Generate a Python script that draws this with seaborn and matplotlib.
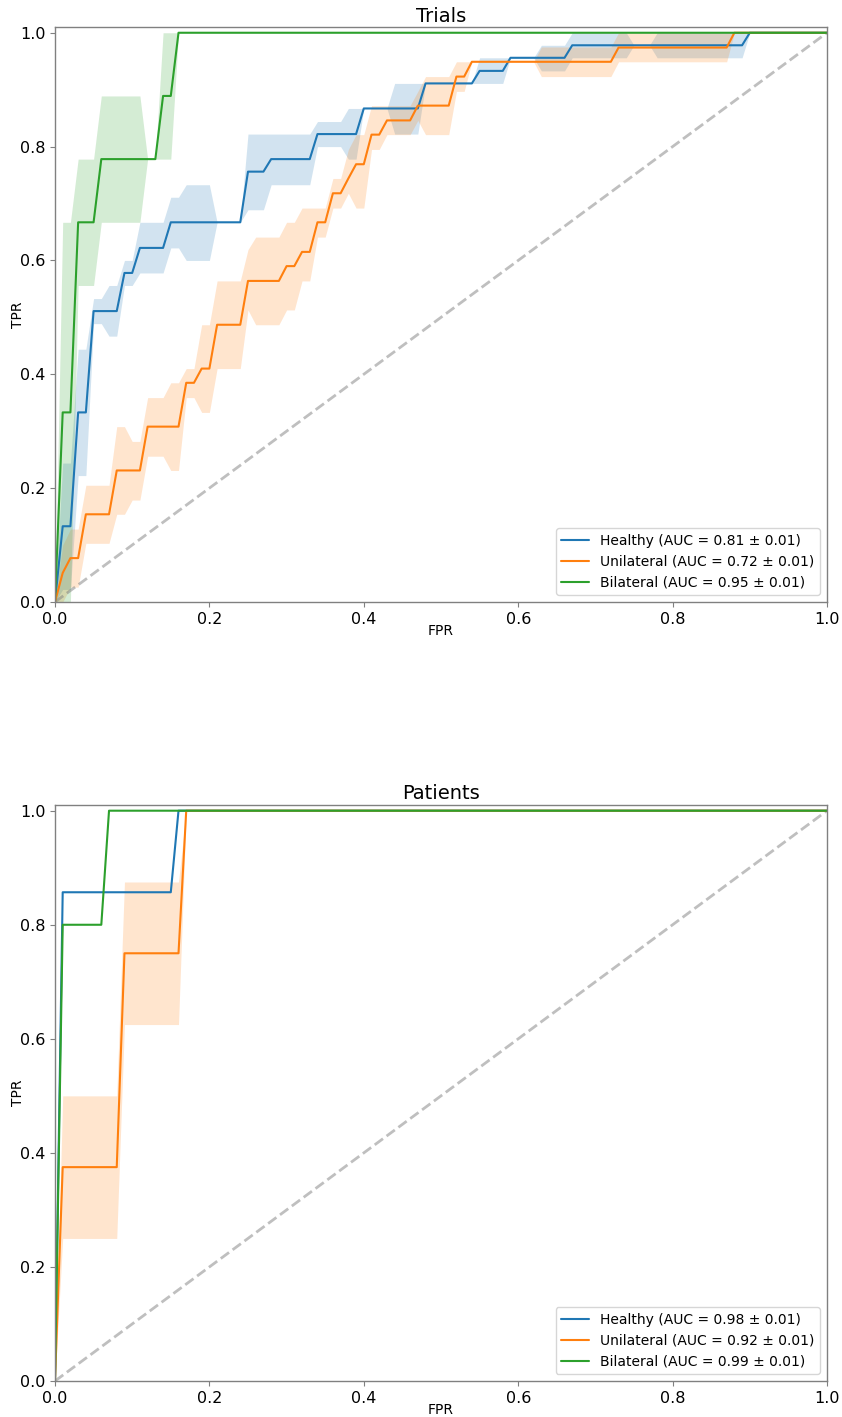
import matplotlib
matplotlib.use("Agg")
import matplotlib.pyplot as plt
import seaborn as sns
import pandas as pd

# ---------------- data ----------------
CLASSES = ["Healthy", "Unilateral", "Bilateral"]
TITLES = ["Trials", "Patients"]
TRIALS_AUC = ["0.81 ± 0.01", "0.72 ± 0.01", "0.95 ± 0.01"]
PATIENTS_AUC = ["0.98 ± 0.01", "0.92 ± 0.01", "0.99 ± 0.01"]
X_TICKS = [0.0, 0.2, 0.4, 0.6, 0.8, 1.0]
Y_TICKS = [0.0, 0.2, 0.4, 0.6, 0.8, 1.0]

# Trials - Healthy
TR_H_FPR = [0, .01, .02, .03, .04, .05, .06, .07, .08, .09, .10, .11, .14, .15, .16, .17, .20, .21, .24, .25,
            .27, .28, .33, .34, .37, .38, .39, .40, .43, .44, .47, .48, .54, .55, .58, .59, .62, .63, .66, .67,
            .74, .75, .77, .78, .89, .90, 1.0]
TR_H_TPR = [0, .133, .133, .333, .333, .511, .511, .511, .511, .578, .578, .622, .622, .667, .667, .667, .667, .667, .667, .756,
            .756, .778, .778, .822, .822, .822, .822, .867, .867, .867, .867, .911, .911, .933, .933, .956, .956, .956, .956, .978,
            .978, .978, .978, .978, .978, 1.0, 1.0]
TR_H_LO = [0, .022, .022, .222, .222, .489, .489, .467, .467, .556, .556, .578, .578, .622, .622, .600, .600, .667, .667, .689,
           .689, .733, .733, .800, .800, .778, .778, .867, .867, .822, .822, .911, .911, .911, .911, .956, .956, .933, .933, .956,
           .956, .978, .978, .956, .956, 1.0, 1.0]
TR_H_HI = [0, .244, .244, .444, .444, .533, .533, .556, .556, .600, .600, .667, .667, .711, .711, .733, .733, .667, .667, .822,
           .822, .822, .822, .844, .844, .867, .867, .867, .867, .911, .911, .911, .911, .956, .956, .956, .956, .978, .978, 1.0,
           1.0, .978, .978, 1.0, 1.0, 1.0, 1.0]

# Trials - Unilateral
TR_U_FPR = [0, .01, .02, .03, .04, .07, .08, .09, .10, .11, .12, .14, .15, .16, .17, .18, .19, .20, .21, .24,
            .25, .26, .29, .30, .31, .32, .33, .34, .35, .36, .37, .38, .39, .40, .41, .42, .43, .46, .47, .48,
            .51, .52, .53, .54, .62, .63, .72, .73, .87, .88, 1.0]
TR_U_TPR = [0, .051, .077, .077, .154, .154, .231, .231, .231, .231, .308, .308, .308, .308, .385, .385, .410, .410, .487, .487,
            .564, .564, .564, .590, .590, .615, .615, .667, .667, .718, .718, .744, .769, .769, .821, .821, .846, .846, .872, .872,
            .872, .923, .923, .949, .949, .949, .949, .974, .974, 1.0, 1.0]
TR_U_LO = [0, 0, .026, .026, .103, .103, .154, .154, .179, .179, .256, .256, .231, .231, .359, .359, .333, .333, .410, .410,
           .513, .487, .487, .513, .513, .564, .564, .641, .641, .692, .692, .718, .692, .692, .795, .795, .821, .821, .846, .821,
           .821, .897, .897, .949, .949, .923, .923, .949, .949, 1.0, 1.0]
TR_U_HI = [0, .100, .128, .128, .205, .205, .308, .308, .282, .282, .359, .359, .385, .385, .410, .410, .487, .487, .564, .564,
           .619, .641, .641, .667, .667, .692, .692, .692, .692, .744, .744, .795, .821, .821, .872, .872, .872, .872, .897, .923,
           .923, .949, .949, .949, .949, .975, .975, 1.0, 1.0, 1.0, 1.0]

# Trials - Bilateral
TR_B_FPR = [0, .01, .02, .03, .05, .06, .11, .12, .13, .14, .15, .16, 1.0]
TR_B_TPR = [0, .333, .333, .667, .667, .778, .778, .778, .778, .889, .889, 1.0, 1.0]
TR_B_LO = [0, 0, 0, .556, .556, .667, .667, .778, .778, .778, .778, 1.0, 1.0]
TR_B_HI = [0, .667, .667, .778, .778, .889, .889, .778, .778, 1.0, 1.0, 1.0, 1.0]

# Patients - Healthy
PA_H_FPR = [0, .01, .15, .16, 1.0]
PA_H_TPR = [0, .857, .857, 1.0, 1.0]
PA_H_LO = [0, .857, .857, 1.0, 1.0]
PA_H_HI = [0, .857, .857, 1.0, 1.0]

# Patients - Unilateral
PA_U_FPR = [0, .01, .08, .09, .16, .17, 1.0]
PA_U_TPR = [0, .375, .375, .750, .750, 1.0, 1.0]
PA_U_LO = [0, .250, .250, .625, .625, 1.0, 1.0]
PA_U_HI = [0, .500, .500, .875, .875, 1.0, 1.0]

# Patients - Bilateral
PA_B_FPR = [0, .01, .06, .07, 1.0]
PA_B_TPR = [0, .800, .800, 1.0, 1.0]
PA_B_LO = [0, .800, .800, 1.0, 1.0]
PA_B_HI = [0, .800, .800, 1.0, 1.0]

COLORS = ["#1f77b4", "#ff7f0e", "#2ca02c"]

PANELS = [
    (TITLES[0], TRIALS_AUC, [(TR_H_FPR, TR_H_TPR, TR_H_LO, TR_H_HI),
                             (TR_U_FPR, TR_U_TPR, TR_U_LO, TR_U_HI),
                             (TR_B_FPR, TR_B_TPR, TR_B_LO, TR_B_HI)]),
    (TITLES[1], PATIENTS_AUC, [(PA_H_FPR, PA_H_TPR, PA_H_LO, PA_H_HI),
                               (PA_U_FPR, PA_U_TPR, PA_U_LO, PA_U_HI),
                               (PA_B_FPR, PA_B_TPR, PA_B_LO, PA_B_HI)]),
]

# ---------------- plotting ----------------
sns.set_style("ticks")
plt.rcParams["font.family"] = ["DejaVu Sans"]
plt.rcParams["font.size"] = 10
plt.rcParams["text.color"] = "black"
plt.rcParams["axes.labelcolor"] = "black"
plt.rcParams["xtick.labelcolor"] = "black"
plt.rcParams["ytick.labelcolor"] = "black"

fig = plt.figure(figsize=(8.42, 14.17), dpi=100)
axes = [fig.add_axes([0.0653, 0.5752, 0.9169, 0.4057]),
        fig.add_axes([0.0653, 0.0254, 0.9169, 0.4065])]

for ax, (title, aucs, series) in zip(axes, PANELS):
    for cls, auc, color, (fpr, tpr, lo, hi) in zip(CLASSES, aucs, COLORS, series):
        df = pd.DataFrame({"FPR": fpr, "TPR": tpr, "lo": lo, "hi": hi})
        ax.fill_between(df["FPR"], df["lo"], df["hi"], color=color, alpha=0.2, linewidth=0)
        sns.lineplot(data=df, x="FPR", y="TPR", ax=ax, color=color, estimator=None, sort=False,
                     linewidth=1.5, label=f"{cls} (AUC = {auc})")
    ax.plot([0, 1], [0, 1], linestyle="--", color="grey", alpha=0.5, linewidth=2, zorder=1)
    ax.set_xlim(0, 1)
    ax.set_ylim(0, 1.01)
    ax.set_xticks(X_TICKS)
    ax.set_yticks(Y_TICKS)
    ax.set_xticklabels([f"{v:.1f}" for v in X_TICKS])
    ax.set_yticklabels([f"{v:.1f}" for v in Y_TICKS])
    ax.set_xlabel("FPR", fontsize=10, labelpad=-2, color="black")
    ax.set_ylabel("TPR", fontsize=10, labelpad=-4, color="black")
    ax.set_title(title, fontsize=14, pad=4, color="black")
    for s in ax.spines.values():
        s.set_visible(True)
        s.set_color("grey")
        s.set_linewidth(1.0)
    ax.tick_params(color="grey", labelcolor="black", length=3.5, width=0.8, labelsize=11.5)
    leg = ax.legend(loc="lower right", fontsize=10, frameon=True)
    for t in leg.get_texts():
        t.set_color("black")

fig.savefig("out.png", dpi=100)
